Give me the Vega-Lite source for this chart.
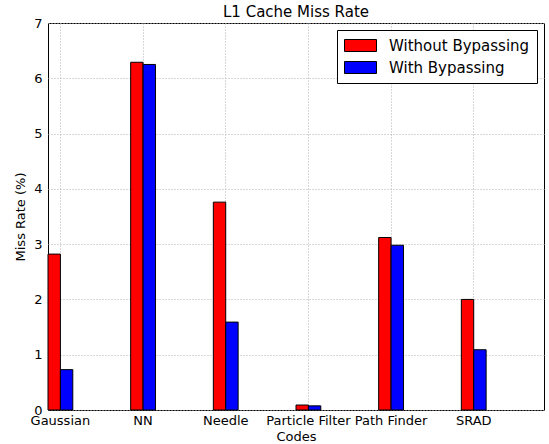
{
  "$schema": "https://vega.github.io/schema/vega-lite/v6.json",
  "width": 496,
  "height": 387,
  "autosize": "none",
  "padding": {"left": 48, "top": 23, "right": 5, "bottom": 34},
  "background": "white",
  "title": {"text": "L1 Cache Miss Rate", "fontSize": 15, "fontWeight": "normal", "font": "DejaVu Sans", "color": "black", "offset": -3, "frame": "group"},
  "config": {
    "view": {"stroke": "black", "strokeWidth": 1},
    "axis": {
      "domain": false,
      "labelFont": "DejaVu Sans",
      "labelFontSize": 13,
      "labelColor": "black",
      "titleFont": "DejaVu Sans",
      "titleFontSize": 13,
      "titleFontWeight": "normal",
      "titleColor": "black",
      "gridColor": "#b0b0b0",
      "gridDash": [1, 2],
      "gridWidth": 1,
      "tickColor": "black",
      "tickSize": 0
    }
  },
  "data": {
    "values": [
      {"code": "Gaussian", "series": "Without Bypassing", "rate": 2.82},
      {"code": "Gaussian", "series": "With Bypassing", "rate": 0.73},
      {"code": "NN", "series": "Without Bypassing", "rate": 6.29},
      {"code": "NN", "series": "With Bypassing", "rate": 6.25},
      {"code": "Needle", "series": "Without Bypassing", "rate": 3.76},
      {"code": "Needle", "series": "With Bypassing", "rate": 1.59},
      {"code": "Particle Filter", "series": "Without Bypassing", "rate": 0.09},
      {"code": "Particle Filter", "series": "With Bypassing", "rate": 0.075},
      {"code": "Path Finder", "series": "Without Bypassing", "rate": 3.12},
      {"code": "Path Finder", "series": "With Bypassing", "rate": 2.98},
      {"code": "SRAD", "series": "Without Bypassing", "rate": 2.0},
      {"code": "SRAD", "series": "With Bypassing", "rate": 1.09}
    ]
  },
  "mark": {"type": "bar", "stroke": "black", "strokeWidth": 1},
  "encoding": {
    "x": {
      "field": "code",
      "type": "nominal",
      "sort": null,
      "scale": {"paddingInner": 0.7, "paddingOuter": 0.35, "align": 0},
      "axis": {"title": "Codes", "labelAngle": 0, "labelPadding": 4, "titlePadding": 3, "grid": true, "bandPosition": 0.5}
    },
    "xOffset": {
      "field": "series",
      "type": "nominal",
      "sort": ["Without Bypassing", "With Bypassing"],
      "scale": {"paddingInner": 0, "paddingOuter": 0}
    },
    "y": {
      "field": "rate",
      "type": "quantitative",
      "scale": {"domain": [0, 7], "nice": false},
      "axis": {"title": "Miss Rate (%)", "values": [0, 1, 2, 3, 4, 5, 6, 7], "labelPadding": 6, "titlePadding": 6, "grid": true}
    },
    "color": {
      "field": "series",
      "type": "nominal",
      "sort": ["Without Bypassing", "With Bypassing"],
      "scale": {"domain": ["Without Bypassing", "With Bypassing"], "range": ["#ff0000", "#0000ff"]},
      "legend": {
        "orient": "top-right",
        "offset": 7,
        "title": null,
        "labelFont": "DejaVu Sans",
        "labelFontSize": 15,
        "labelColor": "black",
        "symbolType": "M-2,-0.75H2V0.75H-2Z",
        "symbolSize": 256,
        "symbolOffset": 8,
        "symbolStrokeColor": "black",
        "symbolStrokeWidth": 1,
        "symbolOpacity": 1,
        "strokeColor": "black",
        "fillColor": "white",
        "padding": 7,
        "rowPadding": 5,
        "labelOffset": 20
      }
    }
  }
}
